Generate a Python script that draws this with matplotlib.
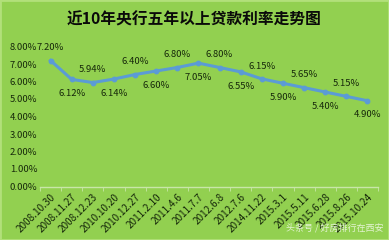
import matplotlib
matplotlib.use("Agg")
import matplotlib.pyplot as plt
from matplotlib.ticker import FuncFormatter, MultipleLocator

plt.rcParams["font.family"] = ["Noto Sans CJK SC", "DejaVu Sans"]

dates = ["2008.10.30", "2008.11.27", "2008.12.23", "2010.10.20", "2010.12.27",
         "2011.2.10", "2011.4.6", "2011.7.7", "2012.6.8", "2012.7.6",
         "2014.11.22", "2015.3.1", "2015.5.11", "2015.6.28", "2015.8.26",
         "2015.10.24"]
rates = [7.20, 6.12, 5.94, 6.14, 6.40, 6.60, 6.80, 7.05, 6.80, 6.55,
         6.15, 5.90, 5.65, 5.40, 5.15, 4.90]

BG = "#92d050"
TXT = "#16280a"
LINE = "#5b9bd5"

fig = plt.figure(figsize=(3.89, 2.40), dpi=100)
fig.patch.set_facecolor(BG)
ax = fig.add_axes([40 / 389, 1 - 186.5 / 240, 338 / 389, 140 / 240])
ax.set_facecolor(BG)

x = list(range(len(dates)))
ax.plot(x, rates, color=LINE, lw=2.2, marker="o", ms=3.2, zorder=3)

for i, v in enumerate(rates):
    above = i % 2 == 0
    ax.annotate(f"{v:.2f}%", (i, v), xytext=(0, 6 if above else -7),
                textcoords="offset points", ha="center",
                va="bottom" if above else "top", fontsize=6.8, color=TXT)

ax.set_xlim(-0.5, len(dates) - 0.5)
ax.set_ylim(0, 8)
ax.yaxis.set_major_locator(MultipleLocator(1))
ax.yaxis.set_major_formatter(FuncFormatter(lambda v, p: f"{v:.2f}%"))
ax.tick_params(axis="y", length=0, labelsize=6.8, labelcolor=TXT, pad=2)

ax.set_xticks(x)
ax.set_xticklabels(dates, rotation=45, ha="right", rotation_mode="anchor",
                   fontsize=7.2, color=TXT, fontweight="medium")
ax.set_xticks([i - 0.5 for i in range(len(dates) + 1)], minor=True)
ax.tick_params(axis="x", which="major", length=0, pad=4)
ax.tick_params(axis="x", which="minor", length=3, color="#c8e6a8", direction="out")

for s in ["top", "right", "left"]:
    ax.spines[s].set_visible(False)
ax.spines["bottom"].set_color("#c8e6a8")
ax.spines["bottom"].set_linewidth(1.0)

fig.text(0.5, 1 - 20 / 240, "近10年央行五年以上贷款利率走势图", ha="center", va="center",
         fontsize=11.3, fontweight="bold", color="#0a0a0a")

fig.text(0.985, 0.03, "头条号 / 好房排行在西安", ha="right", va="bottom",
         fontsize=6.5, color="white", alpha=0.75)

# light border around the picture
fig.add_artist(plt.Rectangle((0, 0), 1, 1, transform=fig.transFigure, fill=False,
                             edgecolor="#b2e07a", lw=2))

fig.savefig("out.png", dpi=100, facecolor=fig.get_facecolor())
